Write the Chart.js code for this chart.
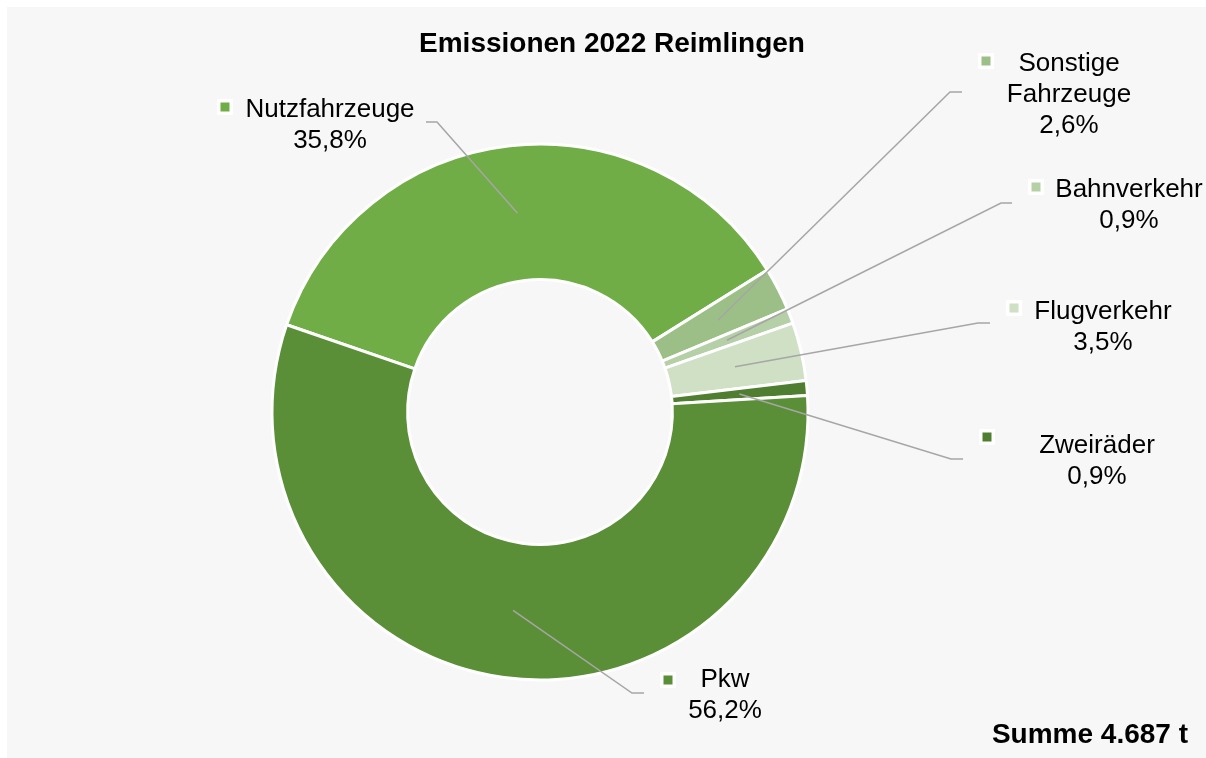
<!DOCTYPE html>
<html>
<head>
  <meta charset="utf-8">
  <title>Emissionen 2022 Reimlingen</title>
  <script src="https://cdn.jsdelivr.net/npm/chart.js@4"></script>
  <style>
    html, body { margin: 0; padding: 0; background: #ffffff; }
    #wrap { width: 1206px; height: 758px; position: relative; }
  </style>
</head>
<body>
<div id="wrap"><canvas id="donut" width="1206" height="758"></canvas></div>

<script>
  // data (share in %)
  const categories = ['Nutzfahrzeuge', ['Sonstige', 'Fahrzeuge'], 'Bahnverkehr', 'Flugverkehr', 'Zweiräder', 'Pkw'];
  const shares = [35.8, 2.6, 0.9, 3.5, 0.9, 56.2];
  const colors = ['#70ad47', '#9bbf86', '#b5cfa7', '#cfe0c5', '#507e31', '#5a8f38'];
  const titleText = 'Emissionen 2022 Reimlingen';
  const totalText = 'Summe 4.687 t';

  // where each label sits: text centre x, first baseline, key square centre, elbow + end of leader
  const labelPos = [
    { x: 330, y: 117, kx: 225, ky: 107, elbow: [437, 122], end: [426, 122] },
    { x: 1069, y: 71, kx: 986, ky: 61, elbow: [950, 92], end: [962, 92] },
    { x: 1129, y: 197, kx: 1036, ky: 187, elbow: [1001, 203], end: [1012, 203] },
    { x: 1103, y: 319, kx: 1014, ky: 308, elbow: [978, 323], end: [990, 323] },
    { x: 1097, y: 453, kx: 987, ky: 437, elbow: [951, 459], end: [963, 459] },
    { x: 725, y: 687, kx: 668, ky: 680, elbow: [632, 693], end: [644, 693] }
  ];

  const FONT = '"Liberation Sans", Arial, sans-serif';

  const pctText = v => v.toFixed(1).replace('.', ',') + '%';

  const decor = {
    id: 'decor',
    beforeDraw(chart) {
      const ctx = chart.ctx;
      ctx.save();
      ctx.fillStyle = '#ffffff';
      ctx.fillRect(0, 0, chart.width, chart.height);
      ctx.fillStyle = '#f7f7f7';
      ctx.fillRect(7, 7, chart.width - 7, chart.height - 7);
      ctx.restore();
    },
    afterDraw(chart) {
      const ctx = chart.ctx;
      const arcs = chart.getDatasetMeta(0).data;
      ctx.save();

      // leader lines
      ctx.strokeStyle = '#a6a6a6';
      ctx.lineWidth = 1.5;
      arcs.forEach((arc, i) => {
        const p = arc.getCenterPoint();
        const l = labelPos[i];
        ctx.beginPath();
        ctx.moveTo(p.x, p.y);
        ctx.lineTo(l.elbow[0], l.elbow[1]);
        ctx.lineTo(l.end[0], l.end[1]);
        ctx.stroke();
      });

      // labels
      ctx.font = '26px ' + FONT;
      ctx.textAlign = 'center';
      ctx.textBaseline = 'alphabetic';
      categories.forEach((cat, i) => {
        const l = labelPos[i];
        const lines = [].concat(cat, pctText(shares[i]));
        ctx.fillStyle = '#000000';
        lines.forEach((t, j) => ctx.fillText(t, l.x, l.y + j * 31));
        ctx.fillStyle = '#ffffff';
        ctx.fillRect(l.kx - 8, l.ky - 8, 16, 16);
        ctx.fillStyle = colors[i];
        ctx.fillRect(l.kx - 4.5, l.ky - 4.5, 9, 9);
      });

      // title and total
      ctx.fillStyle = '#000000';
      ctx.font = 'bold 28px ' + FONT;
      ctx.fillText(titleText, 612, 52);
      ctx.textAlign = 'right';
      ctx.fillText(totalText, 1188, 743);
      ctx.restore();
    }
  };

  new Chart(document.getElementById('donut').getContext('2d'), {
    type: 'doughnut',
    data: {
      labels: categories,
      datasets: [{
        data: shares,
        backgroundColor: colors,
        borderColor: '#ffffff',
        borderWidth: 3
      }]
    },
    options: {
      responsive: false,
      animation: false,
      rotation: -71,
      radius: 268,
      cutout: '49.4%',
      layout: { padding: { left: 0, right: 126, top: 66, bottom: 0 } },
      plugins: {
        legend: { display: false },
        title: { display: false },
        tooltip: { enabled: false }
      }
    },
    plugins: [decor]
  });
</script>
</body>
</html>
